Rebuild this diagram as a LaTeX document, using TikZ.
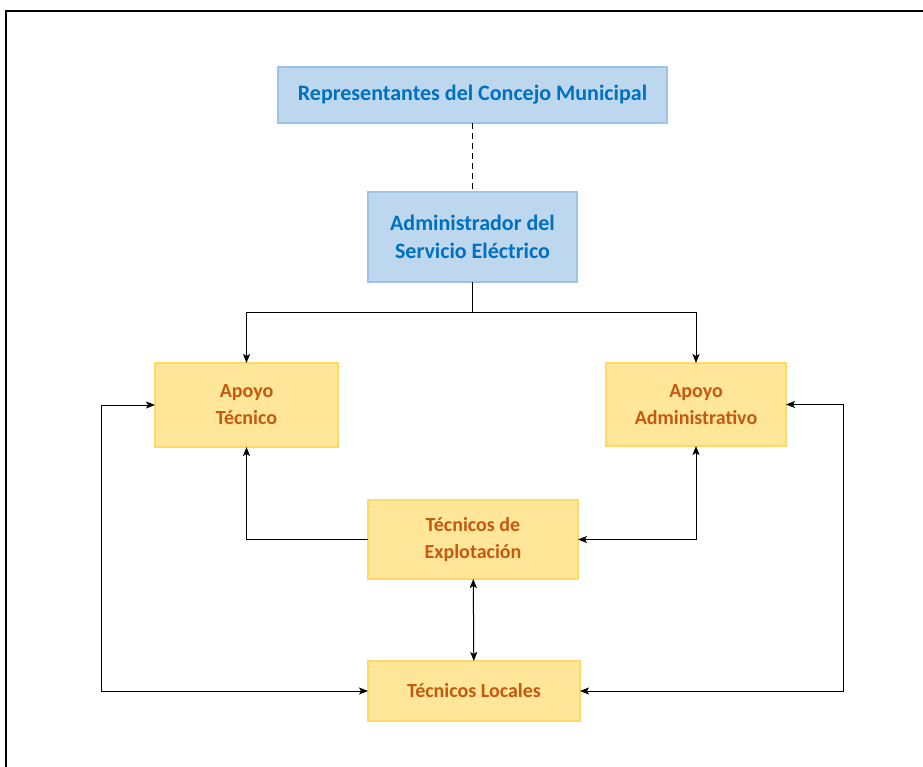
\documentclass[tikz,border=0pt]{standalone}
\usepackage{fontspec}
\setmainfont{Carlito}
\usepackage{tikz}
\usetikzlibrary{positioning, arrows.meta}
\usepackage{xcolor}
\definecolor{orgBlueFill}{HTML}{BDD7EE}
\definecolor{orgBlueLine}{HTML}{9DC3E6}
\definecolor{orgBlueText}{HTML}{0070C0}
\definecolor{orgYellowFill}{HTML}{FFE699}
\definecolor{orgYellowLine}{HTML}{FFD966}
\definecolor{orgOrangeText}{HTML}{C65911}

\begin{document}
\begin{tikzpicture}[
        node distance=69pt and 30pt,
        bluebox/.style={
          rectangle, draw=orgBlueLine, fill=orgBlueFill, line width=1.5pt,
          text=orgBlueText, align=center, inner sep=0pt, outer sep=0pt,
          font=\fontsize{22}{28}\selectfont\bfseries
        },
        yellowbox/.style={
          rectangle, draw=orgYellowLine, fill=orgYellowFill, line width=1.5pt,
          text=orgOrangeText, align=center, inner sep=0pt, outer sep=0pt,
          font=\fontsize{20}{27}\selectfont\bfseries
        },
        edge/.style={-{Stealth[length=9pt, width=7pt, inset=2pt]}, line width=1pt, black},
        biEdge/.style={{Stealth[length=9pt, width=7pt, inset=2pt]}-{Stealth[length=9pt, width=7pt, inset=2pt]}, line width=1pt, black}
      ]
      \useasboundingbox (0,0) rectangle (923pt,-767pt);

      % --- MARCO ---
      \draw[line width=2pt] (923pt,-11pt) -- (6pt,-11pt) -- (6pt,-767pt);

      % --- DIRECCION ---
      \node[bluebox, minimum width=389pt, minimum height=56pt] (concejo) at (472.5pt,-95pt)
        {Representantes del Concejo Municipal};
      \node[bluebox, minimum width=209pt, minimum height=90pt, below=of concejo] (admin)
        {Administrador del\\Servicio Eléctrico};

      \draw[dashed, line width=1pt, dash pattern=on 6pt off 4pt] (concejo) -- (admin);

      % --- APOYO ---
      \node[yellowbox, minimum width=183pt, minimum height=84pt, below left=81pt and 30pt of admin] (apoyoTec)
        {Apoyo\\Técnico};
      \node[yellowbox, minimum width=180pt, minimum height=83pt, below right=81pt and 29pt of admin] (apoyoAdm)
        {Apoyo\\Administrativo};

      \draw[edge] (admin.south) -- ++(0,-30pt) -| (apoyoTec.north);
      \draw[edge] (admin.south) -- ++(0,-30pt) -| (apoyoAdm.north);

      % --- TECNICOS ---
      \node[yellowbox, minimum width=210pt, minimum height=79pt, below=218pt of admin, xshift=0.5pt] (explot)
        {Técnicos de\\Explotación};
      \node[yellowbox, minimum width=212pt, minimum height=60pt, below=82pt of explot, xshift=1pt] (locales)
        {Técnicos Locales};

      \draw[edge] (explot.west) -| (apoyoTec.south);
      \draw[biEdge] (explot.east) -| (apoyoAdm.south);
      \draw[biEdge] (explot) -- (locales);

      % --- LAZOS LATERALES ---
      \draw[biEdge] (apoyoTec.west) -- ++(-54pt,0) |- (locales.west);
      \draw[biEdge] (apoyoAdm.east) -- ++(57pt,0) |- (locales.east);

\end{tikzpicture}
\end{document}
